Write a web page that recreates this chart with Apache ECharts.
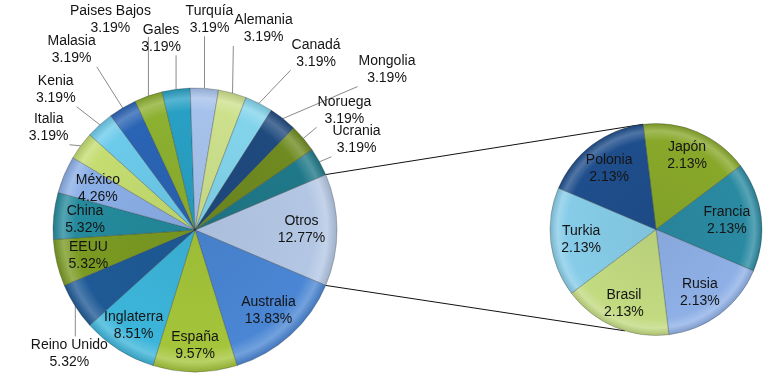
<!DOCTYPE html>
<html><head><meta charset="utf-8">
<script src="https://cdn.jsdelivr.net/npm/echarts@6.0.0/dist/echarts.min.js"></script>
<style>html,body{margin:0;padding:0;background:#fff}#c{width:774px;height:376px}</style>
</head><body><div id="c"></div>
<script>
// ---- data ----
const otrosName = 'Otros';
const mainCountries = ['Australia','España','Inglaterra','Reino Unido','EEUU','China','México','Italia','Kenia','Malasia','Paises Bajos','Gales','Turquía','Alemania','Canadá','Mongolia','Noruega','Ucrania'];
const mainValues = [13,9,8,5,5,5,4,3,3,3,3,3,3,3,3,3,3,3];
const subCountries = ['Japón','Francia','Rusia','Brasil','Turkia','Polonia'];
const subValues = [2,2,2,2,2,2];

// ---- style ----
const mainColors = ['#b3c7e4','#4a86d4','#a4c53a','#3cb5da','#1f5a96','#7a9a22','#248a9c','#8aaee6','#c4dc70','#6ccaea','#2a64b4','#8cb030','#28a0c4','#a6c2ec','#cde08c','#82d4ec','#1f4a7e','#6e8a20','#1f7888'];
const subColors = ['#88a82a','#2a8aa2','#8eb0e6','#c2da80','#86cce8','#1f4e8c'];
const MAIN = {cx:195, cy:230, r:142};
const SUB = {cx:656, cy:229.5, r:106};
const SUB_START = 97;
const SUB_LOWER_ANGLE = -107;
// label placement: 'in' -> offset from 0.75r point, 'out' -> offset from rim point
const labelPlace = {
  'Otros':['in',0,0],'Australia':['in',2,2],'España':['in',0,9],'Inglaterra':['in',-4,6],
  'EEUU':['in',-3,1],'China':['in',-4,0],'México':['in',1,0],
  'Reino Unido':['out',-6,47],'Italia':['out',-32,-18],'Kenia':['out',-44,-35],'Malasia':['out',-51,-58],
  'Paises Bajos':['out',-38,-76],'Gales':['out',-15,-51],'Turquía':['out',5,-69],'Alemania':['out',31,-64],
  'Canadá':['out',57,-50],'Mongolia':['out',104,-49],'Noruega':['out',41,-28],'Ucrania':['out',37,-22],
  'Japón':['in',0,-1],'Francia':['in',-8,1],'Rusia':['in',-4,0],'Brasil':['in',-1,1],'Turkia':['in',4,0],'Polonia':['in',1,3]
};

const sum = a => a.reduce((s,v)=>s+v,0);
const otrosValue = sum(subValues);
const TOTAL = sum(mainValues) + otrosValue;
const mainNames = [otrosName].concat(mainCountries);
const mainVals = [otrosValue].concat(mainValues);
const MAIN_START = otrosValue / TOTAL * 360 / 2;

function shade(hex, f){
  const n = parseInt(hex.slice(1),16);
  let c = [(n>>16)&255,(n>>8)&255,n&255];
  c = c.map(v => Math.round(f>=0 ? v + (255-v)*f : v*(1+f)));
  return 'rgb(' + c.join(',') + ')';
}
function fill(base, g){
  return {type:'radial', x:g.cx, y:g.cy, r:g.r, global:true, colorStops:[
    {offset:0,color:shade(base,-0.05)},{offset:0.84,color:base},
    {offset:0.93,color:shade(base,0.22)},{offset:1,color:shade(base,-0.12)}]};
}
function polar(g, a, rr){
  const r = rr == null ? g.r : rr;
  const t = a*Math.PI/180;
  return [g.cx + r*Math.cos(t), g.cy - r*Math.sin(t)];
}
function midAngles(vals, start){
  const s = sum(vals); let cum = 0;
  return vals.map(v => { const m = start - (cum + v/2)/s*360; cum += v; return m; });
}
const mids = [midAngles(mainVals, MAIN_START), midAngles(subValues, SUB_START)];
const geoms = [MAIN, SUB];

function makeData(names, vals, colors, g){
  return names.map((n,i) => {
    const out = labelPlace[n][0] === 'out';
    return {name:n, value:vals[i],
      itemStyle:{color:fill(colors[i], g)},
      label:{position: out ? 'outside' : 'inside'},
      labelLine:{show: out}};
  });
}

const labelStyle = {show:true, fontFamily:'Liberation Sans, Arial, sans-serif', fontSize:14, lineHeight:17,
  color:'#141414', formatter: p => p.name + '\n' + (p.value/TOTAL*100).toFixed(2) + '%'};

function layoutFn(params){
  const s = params.seriesIndex, i = params.dataIndex;
  const g = geoms[s];
  const name = s === 0 ? mainNames[i] : subCountries[i];
  const pl = labelPlace[name];
  const mid = mids[s][i];
  let x, y;
  const rim = polar(g, mid);
  if (pl[0] === 'in'){
    const p = polar(g, mid, g.r*0.75); x = p[0] + pl[1]; y = p[1] + pl[2];
    return {x:x, y:y, align:'center', verticalAlign:'middle'};
  }
  x = rim[0] + pl[1]; y = rim[1] + pl[2];
  const w = params.labelRect.width, h = params.labelRect.height;
  const x0 = x - w/2 - 1, x1 = x + w/2 + 1, y0 = y - h/2, y1 = y + h/2;
  const nx = Math.min(Math.max(rim[0], x0), x1), ny = Math.min(Math.max(rim[1], y0), y1);
  return {x:x, y:y, align:'center', verticalAlign:'middle', labelLinePoints:[[rim[0],rim[1]],[nx,ny]]};
}

const pieCommon = {type:'pie', clockwise:true, avoidLabelOverlap:false, silent:true,
  emphasis:{disabled:true}, animation:false, label:labelStyle,
  labelLine:{lineStyle:{color:'#8a8a8a', width:1}, length:10, length2:5},
  itemStyle:{borderColor:'rgba(40,40,40,0.35)', borderWidth:0.8},
  labelLayout: layoutFn};

const topA = polar(MAIN, MAIN_START), topB = polar(SUB, SUB_START);
const botA = polar(MAIN, MAIN_START - otrosValue/TOTAL*360), botB = polar(SUB, SUB_LOWER_ANGLE);

const chart = echarts.init(document.getElementById('c'), null, {renderer:'canvas'});
chart.setOption({
  backgroundColor:'#fff',
  animation:false,
  graphic:[
    {type:'line', z:-1, shape:{x1:topA[0],y1:topA[1],x2:topB[0],y2:topB[1]}, style:{stroke:'#111',lineWidth:1}},
    {type:'line', z:-1, shape:{x1:botA[0],y1:botA[1],x2:botB[0],y2:botB[1]}, style:{stroke:'#111',lineWidth:1}}
  ],
  series:[
    Object.assign({}, pieCommon, {center:[MAIN.cx, MAIN.cy], radius:[0, MAIN.r], startAngle:MAIN_START,
      data:makeData(mainNames, mainVals, mainColors, MAIN)}),
    Object.assign({}, pieCommon, {center:[SUB.cx, SUB.cy], radius:[0, SUB.r], startAngle:SUB_START,
      data:makeData(subCountries, subValues, subColors, SUB)})
  ]
});
</script></body></html>
